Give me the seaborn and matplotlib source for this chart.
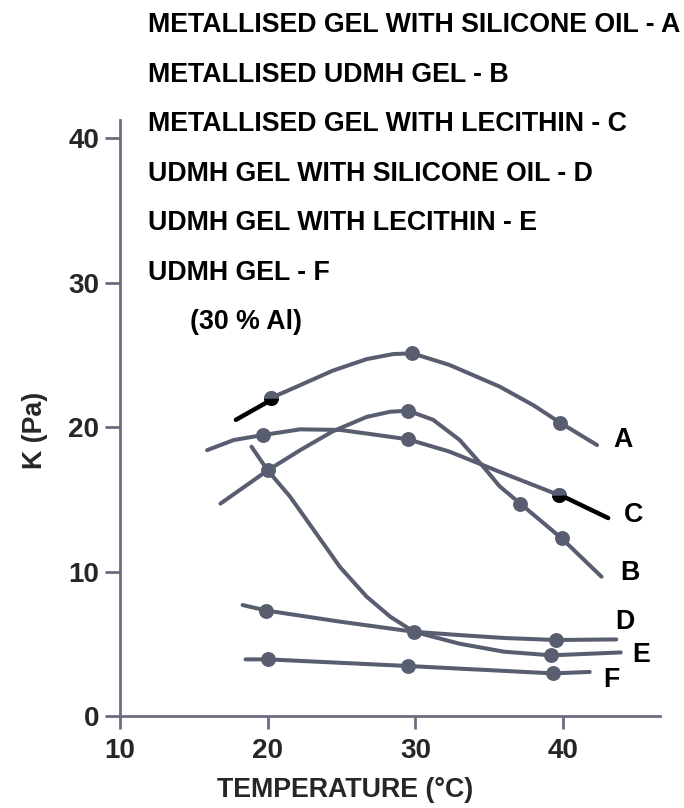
import matplotlib
matplotlib.use("Agg")
import matplotlib.pyplot as plt
import seaborn as sns
import pandas as pd

# ---- data ----
series_names = ["A", "B", "C", "D", "E", "F"]

# curve traces (temperature, K) per series
A_x = [20.2, 22.2, 24.4, 26.7, 28.5, 29.8, 32.3, 35.7, 38.0, 39.8, 42.3]
A_y = [22.0, 22.9, 23.9, 24.7, 25.05, 25.1, 24.3, 22.8, 21.5, 20.3, 18.75]
B_x = [16.8, 20.0, 22.2, 24.4, 26.7, 28.3, 29.5, 31.2, 33.0, 34.6, 35.7, 37.1, 39.9, 42.6]
B_y = [14.7, 17.0, 18.4, 19.7, 20.7, 21.06, 21.13, 20.5, 19.1, 17.25, 15.9, 14.7, 12.3, 9.64]
C_x = [15.9, 17.7, 19.7, 22.2, 24.9, 27.4, 29.5, 32.3, 35.7, 39.7]
C_y = [18.4, 19.1, 19.45, 19.84, 19.8, 19.45, 19.15, 18.3, 16.9, 15.3]
D_x = [18.3, 19.9, 24.9, 29.9, 33.0, 36.0, 39.5, 43.6]
D_y = [7.68, 7.3, 6.53, 5.83, 5.6, 5.4, 5.26, 5.3]
E_x = [18.9, 20.0, 21.5, 23.1, 24.9, 26.7, 28.3, 29.9, 33.0, 36.0, 39.2, 43.9]
E_y = [18.64, 17.0, 15.2, 12.9, 10.3, 8.26, 6.87, 5.83, 5.0, 4.45, 4.2, 4.4]
F_x = [18.5, 20.0, 29.5, 39.3, 41.8]
F_y = [3.92, 3.92, 3.46, 2.95, 3.05]

# measured points (markers)
pts_series = ["A", "A", "A", "B", "B", "B", "B", "C", "C", "C",
              "D", "D", "D", "E", "F", "F", "F"]
pts_x = [20.2, 29.8, 39.8, 20.0, 29.5, 37.1, 39.9, 19.7, 29.5, 39.7,
         19.9, 29.9, 39.5, 39.2, 20.0, 29.5, 39.3]
pts_y = [22.0, 25.1, 20.3, 17.0, 21.13, 14.7, 12.3, 19.45, 19.15, 15.3,
         7.3, 5.83, 5.26, 4.2, 3.92, 3.46, 2.95]

# curve end labels
lab_text = ["A", "B", "C", "D", "E", "F"]
lab_x = [43.4, 43.85, 44.1, 43.5, 44.7, 42.7]
lab_y = [19.1, 9.9, 13.9, 6.5, 4.2, 2.5]

# black leader strokes (A and C)
leadA_x = [17.85, 20.1]
leadA_y = [20.5, 21.8]
leadC_x = [40.0, 43.05]
leadC_y = [15.2, 13.7]

legend_lines = ["METALLISED GEL WITH SILICONE OIL - A",
                "METALLISED UDMH GEL - B",
                "METALLISED GEL WITH LECITHIN - C",
                "UDMH GEL WITH SILICONE OIL - D",
                "UDMH GEL WITH LECITHIN - E",
                "UDMH GEL - F"]
note = "(30 % Al)"

x_ticks = [10, 20, 30, 40]
y_ticks = [0, 10, 20, 30, 40]
x_label = "TEMPERATURE (°C)"
y_label = "K (Pa)"

# ---- build frames ----
curves = {"A": (A_x, A_y), "B": (B_x, B_y), "C": (C_x, C_y),
          "D": (D_x, D_y), "E": (E_x, E_y), "F": (F_x, F_y)}
rows = []
for s in series_names:
    xs, ys = curves[s]
    for i, (xv, yv) in enumerate(zip(xs, ys)):
        rows.append({"series": s, "order": i, "T": xv, "K": yv})
curve_df = pd.DataFrame(rows)
pts_df = pd.DataFrame({"series": pts_series, "T": pts_x, "K": pts_y})

# ---- style ----
sns.set_style("ticks")
FONT = ["Liberation Sans", "DejaVu Sans"]
plt.rcParams["font.family"] = FONT
LINE = "#595d70"
AX = "#6b6e80"
FS = 19.3

fig = plt.figure(figsize=(6.84, 8.08), dpi=100)
ax = fig.add_axes([120 / 684, 92 / 808, 540 / 684, 596 / 808])

pal = {s: LINE for s in series_names}
sns.lineplot(data=curve_df, x="T", y="K", hue="series", units="series",
             estimator=None, sort=False, palette=pal, linewidth=2.9,
             legend=False, ax=ax)
for line in ax.get_lines():
    line.set_solid_joinstyle("round")
sns.scatterplot(data=pts_df, x="T", y="K", color=LINE, s=115,
                edgecolor=LINE, linewidth=0, legend=False, ax=ax, zorder=3)

# leaders
ax.plot(leadA_x, leadA_y, color="black", lw=3.2, solid_capstyle="round", zorder=4)
ax.plot(leadC_x, leadC_y, color="black", lw=3.2, solid_capstyle="round", zorder=4)
ax.plot([pts_x[0]], [pts_y[0]], marker="o", ms=10.7, fillstyle="bottom",
        markerfacecolor="black", markerfacecoloralt=LINE, markeredgewidth=0,
        linestyle="none", zorder=5)
ax.plot([pts_x[9]], [pts_y[9]], marker="o", ms=10.7, fillstyle="bottom",
        markerfacecolor="black", markerfacecoloralt=LINE, markeredgewidth=0,
        linestyle="none", zorder=5)

for t, xv, yv in zip(lab_text, lab_x, lab_y):
    ax.text(xv, yv, t, fontsize=FS, fontweight="bold", ha="left", va="center",
            color="black")

ax.set_xlim(10, 46.56)
ax.set_ylim(0, 41.25)
ax.set_xticks(x_ticks)
ax.set_yticks(y_ticks)
ax.set_xlabel(x_label, fontsize=FS, fontweight="bold")
ax.set_ylabel(y_label, fontsize=FS, fontweight="bold")
ax.xaxis.set_label_coords((345 - 120) / 540, (716 - 777) / 596)
ax.yaxis.set_label_coords((48 - 120) / 540, (716 - 430) / 596)
ax.tick_params(axis="y", length=11, width=2, color=AX, pad=4, labelsize=20)
ax.tick_params(axis="x", length=9, width=2, color=AX, pad=7, labelsize=20)
for lbl in ax.get_xticklabels() + ax.get_yticklabels():
    lbl.set_fontweight("bold")
sns.despine(ax=ax)
for sp in ["left", "bottom"]:
    ax.spines[sp].set_color(AX)
    ax.spines[sp].set_linewidth(2)

# legend text block at top
y0 = 808 - 25
for i, line in enumerate(legend_lines):
    fig.text(148 / 684, (y0 - i * 49.6) / 808, line, fontsize=FS,
             fontweight="bold", ha="left", va="center", color="black")
fig.text(190 / 684, (808 - 322) / 808, note, fontsize=FS, fontweight="bold",
         ha="left", va="center", color="black")

fig.savefig("out.png", dpi=100)
